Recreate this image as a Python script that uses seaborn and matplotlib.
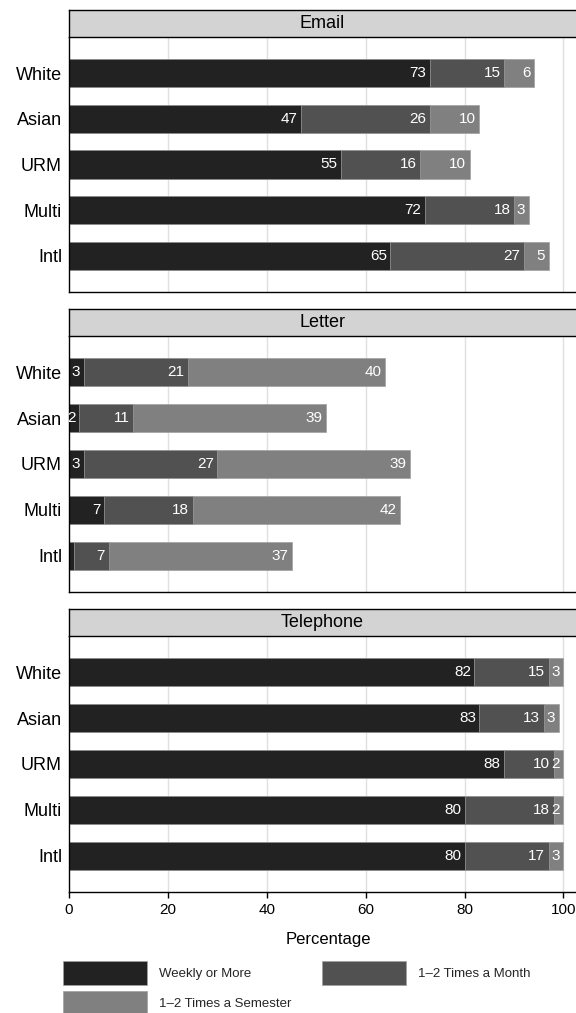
import numpy as np
import pandas as pd
import seaborn as sns
import matplotlib
matplotlib.use("Agg")
import matplotlib.pyplot as plt
from matplotlib.patches import Patch

groups = ["White", "Asian", "URM", "Multi", "Intl"]
methods = ["Email", "Letter", "Telephone"]
freq_labels = ["Weekly or More", "1\u20132 Times a Month", "1\u20132 Times a Semester"]

email_weekly = [73, 47, 55, 72, 65]
email_month = [15, 26, 16, 18, 27]
email_semester = [6, 10, 10, 3, 5]

letter_weekly = [3, 2, 3, 7, 1]
letter_month = [21, 11, 27, 18, 7]
letter_semester = [40, 39, 39, 42, 37]

phone_weekly = [82, 83, 88, 80, 80]
phone_month = [15, 13, 10, 18, 17]
phone_semester = [3, 3, 2, 2, 3]

x_ticks = [0, 20, 40, 60, 80, 100]

colors = ["#222222", "#515151", "#808080"]

sns.set_theme(style="white")
plt.rcParams["font.family"] = ["Liberation Sans", "DejaVu Sans"]

data = {
    "Email": [email_weekly, email_month, email_semester],
    "Letter": [letter_weekly, letter_month, letter_semester],
    "Telephone": [phone_weekly, phone_month, phone_semester],
}

W, H = 576, 1013
fig = plt.figure(figsize=(W / 100, H / 100), dpi=100)

# panel pixel extents (top, bottom)
panels = [(37, 292), (336, 592), (636, 892)]
strip_h = 27
left_px = 69
extra = 0.02  # axes extend slightly past the right edge of the figure

for k, method in enumerate(methods):
    top, bot = panels[k]
    ax = fig.add_axes([left_px / W, 1 - bot / H, 1 - left_px / W + extra, (bot - top) / H])
    sax = fig.add_axes([left_px / W, 1 - top / H, 1 - left_px / W + extra, strip_h / H])

    series = data[method]
    cum = np.cumsum(np.array(series, dtype=float), axis=0)
    df = pd.DataFrame({"group": groups, "c1": cum[0], "c2": cum[1], "c3": cum[2]})

    for gx in x_ticks[1:]:
        ax.axvline(gx, color="#e0e0e0", lw=1.0, zorder=0)

    for col, c in zip(["c3", "c2", "c1"], [colors[2], colors[1], colors[0]]):
        sns.barplot(data=df, x=col, y="group", order=groups, orient="h",
                    color=c, saturation=1, width=0.62, ax=ax,
                    edgecolor="#a0a0a0", linewidth=0.5, zorder=2)

    for j in range(3):
        vals = series[j]
        ends = cum[j]
        for i, g in enumerate(groups):
            if vals[i] >= 2:
                ax.text(ends[i] - 0.7, i, f"{vals[i]:d}", ha="right", va="center",
                        color="white", fontsize=11, zorder=5, clip_on=True)

    ax.set_xlim(0, 102.53 + extra * W * (100 / 494.5))
    ax.set_ylim(4.79, -0.79)
    ax.set_xlabel("")
    ax.set_ylabel("")
    ax.set_xticks(x_ticks)
    for s in ["top", "right"]:
        ax.spines[s].set_visible(False)
    for s in ["left", "bottom"]:
        ax.spines[s].set_color("black")
        ax.spines[s].set_linewidth(1.0)
    ax.tick_params(axis="y", length=0, pad=5, labelsize=13, labelcolor="black")
    if k == 2:
        ax.tick_params(axis="x", length=4, width=1, color="black", direction="out",
                       bottom=True, labelsize=11, labelcolor="black", pad=4)
        ax.set_xlabel("Percentage", fontsize=12, color="black", labelpad=11)
    else:
        ax.tick_params(axis="x", length=0, labelbottom=False)

    sax.set_facecolor("#d3d3d3")
    sax.set_xticks([])
    sax.set_yticks([])
    for s in sax.spines.values():
        s.set_color("black")
        s.set_linewidth(1.0)
    sax.text(0.5 * (W - left_px) / (W - left_px + extra * W), 0.5, method,
             transform=sax.transAxes, ha="center", va="center", fontsize=13, color="black")

handles = [Patch(facecolor=colors[0], edgecolor="#a0a0a0", lw=0.5, label=freq_labels[0]),
           Patch(facecolor=colors[2], edgecolor="#a0a0a0", lw=0.5, label=freq_labels[2]),
           Patch(facecolor=colors[1], edgecolor="#a0a0a0", lw=0.5, label=freq_labels[1])]
fig.legend(handles=handles, ncol=2, loc="upper left",
           bbox_to_anchor=(63 / W, 1 - 961 / H), frameon=False, fontsize=9.5,
           handlelength=6.4, handleheight=2.42, handletextpad=0.85,
           columnspacing=2.35, labelspacing=0.45, borderpad=0, borderaxespad=0)

fig.savefig("out.png", dpi=100)
